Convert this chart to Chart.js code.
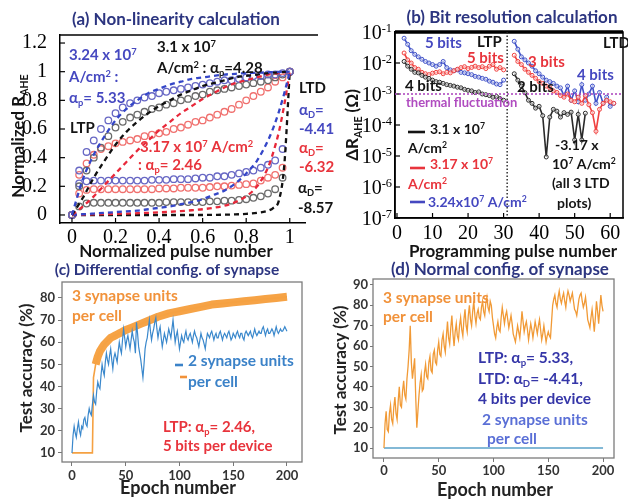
<!DOCTYPE html>
<html>
<head>
<meta charset="utf-8">
<script src="https://cdn.jsdelivr.net/npm/chart.js@4.4.1/dist/chart.umd.min.js"></script>
<style>
  body { margin: 0; background: #fff; }
  #fig { position: relative; width: 628px; height: 500px; overflow: hidden; background: #fff; }
  #fig canvas { position: absolute; }
</style>
</head>
<body>
<div id="fig">
  <canvas id="chartA" width="334" height="262" style="left:0;top:0"></canvas>
  <canvas id="chartB" width="294" height="262" style="left:334px;top:0"></canvas>
  <canvas id="chartC" width="320" height="250" style="left:0;top:250px"></canvas>
  <canvas id="chartD" width="308" height="250" style="left:320px;top:250px"></canvas>
</div>
<script>
const SANS = "Lato, 'Open Sans', 'DejaVu Sans', sans-serif";
const SERIF = "'Liberation Serif', 'DejaVu Serif', serif";
const NAVY = '#2c3580';
const BLUE = '#4548c0';
const RED = '#e8343c';
const INK = '#141414';
const ORANGE = '#f1923a';
const PURPLE = '#b04cc0';

Chart.defaults.animation = false;
Chart.defaults.font.family = SANS;
Chart.defaults.events = [];

// (a) normalized R_AHE against normalized pulse number
const pulseA = [0, 0.033, 0.067, 0.1, 0.133, 0.167, 0.2, 0.233, 0.267, 0.3, 0.333, 0.367, 0.4, 0.433, 0.467, 0.5,
  0.533, 0.567, 0.6, 0.633, 0.667, 0.7, 0.733, 0.767, 0.8, 0.833, 0.867, 0.9, 0.933, 0.967, 1];
const ltpBlue  = [0, 0.31, 0.44, 0.52, 0.60, 0.66, 0.71, 0.75, 0.78, 0.80, 0.82, 0.83, 0.85, 0.86, 0.87, 0.88,
  0.89, 0.90, 0.91, 0.92, 0.93, 0.94, 0.94, 0.95, 0.96, 0.97, 0.97, 0.98, 0.98, 0.99, 1.0];
const ltpBlack = [0, 0.20, 0.31, 0.40, 0.47, 0.55, 0.61, 0.65, 0.68, 0.70, 0.72, 0.74, 0.75, 0.77, 0.78, 0.80,
  0.81, 0.83, 0.84, 0.86, 0.87, 0.88, 0.89, 0.90, 0.91, 0.92, 0.93, 0.94, 0.96, 0.98, 1.0];
const ltpRed   = [0, 0.28, 0.36, 0.42, 0.46, 0.48, 0.50, 0.51, 0.52, 0.53, 0.55, 0.56, 0.57, 0.58, 0.60, 0.61,
  0.63, 0.65, 0.66, 0.68, 0.70, 0.72, 0.74, 0.77, 0.80, 0.83, 0.86, 0.89, 0.93, 0.96, 1.0];
const ltdBlue  = [0, 0.22, 0.235, 0.24, 0.24, 0.24, 0.24, 0.24, 0.24, 0.24, 0.24, 0.245, 0.245, 0.245, 0.25, 0.25,
  0.25, 0.255, 0.26, 0.26, 0.27, 0.27, 0.28, 0.29, 0.30, 0.31, 0.33, 0.35, 0.38, 0.46, 1.0];
const ltdRed   = [0, 0.15, 0.175, 0.18, 0.18, 0.18, 0.18, 0.18, 0.18, 0.18, 0.18, 0.18, 0.185, 0.185, 0.185, 0.19,
  0.19, 0.19, 0.19, 0.195, 0.2, 0.2, 0.205, 0.21, 0.215, 0.22, 0.24, 0.26, 0.28, 0.33, 1.0];
const ltdBlack = [0, 0.06, 0.08, 0.085, 0.085, 0.085, 0.085, 0.085, 0.085, 0.085, 0.085, 0.085, 0.085, 0.09, 0.09, 0.09,
  0.09, 0.09, 0.09, 0.095, 0.095, 0.1, 0.1, 0.105, 0.11, 0.12, 0.13, 0.15, 0.18, 0.26, 1.0];

// fitted curves (dashed)
const fitX = [0, 0.05, 0.1, 0.15, 0.2, 0.25, 0.3, 0.35, 0.4, 0.45, 0.5, 0.55, 0.6, 0.65, 0.7, 0.75, 0.8, 0.85,
  0.9, 0.925, 0.95, 0.975, 1];
const fitLtpBlue  = [0, 0.25, 0.42, 0.55, 0.66, 0.74, 0.80, 0.85, 0.88, 0.91, 0.93, 0.95, 0.96, 0.97, 0.98, 0.985,
  0.99, 0.993, 0.996, 0.997, 0.998, 0.999, 1.0];
const fitLtpBlack = [0, 0.12, 0.26, 0.38, 0.49, 0.58, 0.65, 0.71, 0.76, 0.80, 0.84, 0.87, 0.90, 0.92, 0.94, 0.96,
  0.97, 0.98, 0.99, 0.993, 0.996, 0.998, 1.0];
const fitLtpRed   = [0, 0.06, 0.13, 0.21, 0.29, 0.37, 0.45, 0.52, 0.59, 0.65, 0.71, 0.76, 0.81, 0.85, 0.89, 0.92,
  0.94, 0.96, 0.98, 0.985, 0.99, 0.995, 1.0];
const fitLtdBlue  = [0, 0.005, 0.01, 0.015, 0.02, 0.025, 0.03, 0.04, 0.05, 0.06, 0.075, 0.09, 0.11, 0.14, 0.17, 0.22,
  0.29, 0.38, 0.52, 0.61, 0.72, 0.85, 1.0];
const fitLtdRed   = [0, 0.002, 0.004, 0.006, 0.008, 0.01, 0.012, 0.015, 0.018, 0.022, 0.027, 0.033, 0.04, 0.05,
  0.065, 0.09, 0.13, 0.2, 0.33, 0.44, 0.58, 0.77, 1.0];
const fitLtdBlack = [0, 0, 0, 0, 0, 0, 0, 0, 0, 0, 0, 0, 0, 0.001, 0.002, 0.004, 0.008, 0.015, 0.03, 0.05, 0.1,
  0.35, 1.0];
const ticksAx = [0, 0.2, 0.4, 0.6, 0.8, 1];
const ticksAy = [0, 0.2, 0.4, 0.6, 0.8, 1, 1.2];

// (b) delta R_AHE per programming pulse
const pulseLtp = [2, 3, 4, 5, 6, 7, 8, 9, 10, 11, 12, 13, 14, 15, 16, 17, 18, 19, 20, 21, 22, 23, 24, 25, 26, 27,
  28, 29, 30];
const pulseLtd = [33, 34, 35, 36, 37, 38, 39, 40, 41, 42, 43, 44, 45, 46, 47, 48, 49, 50, 51, 52, 53, 54, 55, 56,
  57, 58, 59, 60, 61];
const dLtpBlue  = [0.063, 0.040, 0.025, 0.019, 0.0158, 0.0132, 0.0112, 0.010, 0.0089, 0.0079, 0.0089, 0.0112,
  0.0071, 0.0060, 0.0056, 0.0060, 0.0050, 0.0048, 0.0045, 0.0042, 0.0037, 0.0035, 0.0032, 0.0030, 0.0026, 0.0024,
  0.0021, 0.0020, 0.0028];
const dLtpRed   = [0.021, 0.0126, 0.010, 0.0071, 0.0063, 0.0050, 0.0045, 0.0042, 0.0047, 0.0050, 0.0052, 0.0045,
  0.0050, 0.0048, 0.0056, 0.0063, 0.0071, 0.0076, 0.0066, 0.0072, 0.0079, 0.0071, 0.0076, 0.0066, 0.0079, 0.0089,
  0.0063, 0.0071, 0.0060];
const dLtpBlack = [0.0112, 0.0079, 0.0063, 0.0050, 0.0048, 0.0040, 0.0035, 0.0032, 0.0028, 0.0025, 0.0024, 0.0022,
  0.0020, 0.0019, 0.0018, 0.00166, 0.00158, 0.00141, 0.00132, 0.00126, 0.00112, 0.00117, 0.0010, 0.00095, 0.00089,
  0.00079, 0.00083, 0.00071, 0.00063];
const dLtdBlue  = [0.050, 0.028, 0.0158, 0.0126, 0.010, 0.0079, 0.0056, 0.0045, 0.0035, 0.0028, 0.0025, 0.0022,
  0.0018, 0.00158, 0.00089, 0.0018, 0.00063, 0.00126, 0.00056, 0.0020, 0.00063, 0.0010, 0.0018, 0.0005, 0.00112,
  0.0005, 0.00079, 0.0004, 0.0005];
const dLtdRed   = [0.0178, 0.0112, 0.0089, 0.0063, 0.0050, 0.0040, 0.0032, 0.0025, 0.0022, 0.0018, 0.00158,
  0.00126, 0.00112, 0.00089, 0.00079, 0.0010, 0.00063, 0.00056, 0.00079, 0.0005, 0.00089, 0.00045, 0.00025,
  0.000063, 0.00032, 0.0005, 0.00063, 0.00056, 0.0005];
const dLtdBlack = [0.0045, 0.0028, 0.0018, 0.0011, 0.00063, 0.0005, 0.00035, 0.0004, 0.0002, 0.0000093, 0.00018,
  0.00032, 0.00028, 0.00018, 0.00025, 0.00022, 0.00026, 0.000033, 0.00022, 0.000033, 0.00024];
const thermalLevel = 1e-3;
const boundaryPulse = 31;
const ticksBx = [0, 10, 20, 30, 40, 50, 60];
const ticksBy = [1e-7, 1e-6, 1e-5, 1e-4, 1e-3, 1e-2, 1e-1];

// (c), (d) test accuracy per epoch
const epochs = Array.from({ length: 201 }, (_, i) => i);
const diffTwoUnits = [
  10, 18, 22, 19, 17, 21, 24, 20, 18, 22,
  21, 25, 26, 23, 22, 27, 30, 28, 27, 32,
  36, 33, 32, 38, 42, 40, 39, 45, 50, 47,
  45, 51, 55, 52, 50, 54, 57, 52, 48, 53,
  55, 53, 51, 56, 60, 57, 55, 61, 66, 62,
  58, 61, 63, 60, 57, 61, 65, 62, 60, 55,
  69, 64, 58, 55, 52, 48, 44, 50, 57, 60,
  62, 66, 70, 65, 61, 64, 66, 69, 71, 66,
  62, 65, 67, 62, 58, 61, 64, 62, 60, 63,
  66, 64, 62, 66, 70, 65, 60, 63, 65, 61,
  57, 60, 63, 61, 60, 63, 65, 62, 61, 63,
  64, 62, 60, 63, 65, 63, 62, 60, 58, 61,
  64, 62, 61, 59, 57, 61, 64, 63, 62, 64,
  65, 63, 61, 63, 64, 62, 62, 64, 65, 63,
  61, 63, 64, 63, 62, 64, 65, 63, 61, 62,
  64, 63, 62, 64, 65, 63, 62, 64, 64, 62,
  61, 64, 65, 64, 63, 64, 65, 63, 62, 64,
  66, 64, 63, 64, 65, 64, 64, 66, 67, 65,
  63, 65, 66, 64, 64, 65, 66, 65, 63, 65,
  67, 65, 64, 65, 66, 65, 65, 66, 67, 66,
  65];
const diffThreeEpochs = [0, 19, 20, 22, 24, 26, 28, 30, 32, 34, 36, 38, 40, 42, 44, 46, 48, 50, 55, 60, 65, 70,
  75, 80, 90, 100, 110, 120, 130, 140, 150, 160, 170, 180, 190, 200];
const diffThreeUnits = [10, 10, 44, 50, 53.5, 56, 57.5, 59, 60, 61, 62, 62.5, 63, 63.5, 64, 64.5, 65, 65.5, 66.5,
  67.5, 68.5, 69.5, 70.5, 71.5, 73, 74, 75, 76, 77, 77.5, 78, 78.5, 79, 79.5, 80, 80.5];
const normThreeUnits = [
  10, 22, 28, 19, 18, 27, 31, 24, 22, 30,
  35, 27, 24, 33, 40, 31, 30, 38, 43, 36,
  34, 44, 50, 58, 70, 52, 44, 49, 54, 35,
  20, 28, 36, 42, 46, 38, 39, 47, 51, 45,
  44, 52, 55, 48, 47, 56, 58, 52, 51, 58,
  62, 56, 55, 63, 66, 60, 57, 65, 72, 64,
  61, 69, 75, 66, 60, 67, 71, 65, 63, 70,
  74, 68, 65, 73, 78, 70, 67, 75, 80, 73,
  70, 77, 82, 75, 71, 76, 78, 74, 73, 79,
  82, 77, 75, 81, 84, 79, 77, 82, 80, 74,
  70, 66, 64, 69, 72, 68, 67, 74, 79, 75,
  71, 75, 77, 73, 69, 72, 75, 71, 66, 64,
  62, 66, 70, 67, 64, 70, 77, 72, 67, 70,
  72, 68, 63, 67, 71, 68, 64, 68, 72, 69,
  66, 70, 73, 68, 63, 66, 70, 66, 62, 65,
  67, 65, 64, 72, 80, 83, 85, 81, 79, 84,
  87, 83, 81, 84, 86, 82, 79, 84, 87, 85,
  82, 84, 86, 82, 78, 77, 75, 79, 83, 85,
  86, 82, 79, 81, 84, 79, 73, 71, 69, 74,
  78, 73, 67, 74, 82, 77, 71, 78, 85, 80,
  77];
const normTwoEpochs = [0, 200];
const normTwoUnits = [10, 10];
const bandStart = 22;
const ticksEpoch = [0, 50, 100, 150, 200];
const ticksAccC = [10, 20, 30, 40, 50, 60, 70, 80];
const ticksAccD = [10, 20, 30, 40, 50, 60, 70, 80, 90];

// text placed on each panel: [text, x, y, colour, size, align, rotated]
const notesA = [
  ['(a) Non-linearity calculation', 176, 19, NAVY, 17, 'center'],
  ['3.24 x 10^{7}', 69, 55, BLUE, 15],
  ['A/cm^{2} :', 69, 77, BLUE, 15],
  ['α_{p}= 5.33', 69, 98, BLUE, 15],
  ['3.1 x 10^{7}', 157, 47, INK, 15],
  ['A/cm^{2} : α_{p}=4.28', 157, 68, INK, 15],
  ['LTP', 70, 128, INK, 15],
  ['3.17 x 10^{7} A/cm^{2}', 140, 147, RED, 15],
  [': α_{p}= 2.46', 138, 165, RED, 15],
  ['LTD', 299, 88, INK, 15],
  ['α_{D}=', 299, 110, BLUE, 15], ['-4.41', 299, 129, BLUE, 15],
  ['α_{D}=', 299, 148, RED, 15], ['-6.32', 299, 167, RED, 15],
  ['α_{D}=', 298, 188, INK, 15], ['-8.57', 298, 208, INK, 15],
  ['Normalized R_{AHE}', 18, 136, INK, 17, 'center', true],
  ['Normalized pulse number', 176, 251, INK, 17, 'center']
];
const notesB = [
  ['(b) Bit resolution calculation', 512, 17, NAVY, 17, 'center'],
  ['5 bits', 425, 43, BLUE, 15],
  ['LTP', 477, 42, INK, 15],
  ['5 bits', 467, 58, RED, 15],
  ['4 bits', 405, 86, INK, 15],
  ['thermal fluctuation', 406, 102, PURPLE, 13],
  ['3 bits', 528, 62, RED, 15],
  ['4 bits', 577, 75, BLUE, 15],
  ['LTD', 603, 43, INK, 15],
  ['2 bits', 517, 87, INK, 15],
  ['3.1 x 10^{7}', 430, 129, INK, 14],
  ['A/cm^{2}', 408, 148, INK, 14],
  ['3.17 x 10^{7}', 430, 164, RED, 14],
  ['A/cm^{2}', 408, 184, RED, 14],
  ['3.24x10^{7} A/cm^{2}', 428, 202, BLUE, 14],
  ['-3.17 x', 555, 145, INK, 14],
  ['10^{7} A/cm^{2}', 552, 164, INK, 14],
  ['(all 3 LTD', 552, 183, INK, 14],
  ['plots)', 557, 203, INK, 14],
  ['ΔR_{AHE} (Ω)', 352, 125, INK, 17, 'center', true],
  ['Programming pulse number', 513, 251, INK, 17, 'center']
];
const keyB = [[408, 425, 132, INK], [410, 425, 168, RED], [410, 425, 202, BLUE]];
const notesC = [
  ['(c) Differential config. of synapse', 167, 269, NAVY, 15.5, 'center'],
  ['3 synapse units', 72, 295, ORANGE, 15.5],
  ['per cell', 72, 315, ORANGE, 15.5],
  ['2 synapse units', 188, 360, '#3b82c8', 15.5],
  ['per cell', 188, 381, '#3b82c8', 15.5],
  ['LTP: α_{p}= 2.46,', 163, 427, RED, 15],
  ['5 bits per device', 163, 446, RED, 15],
  ['Test accuracy (%)', 26, 368, '#222', 17, 'center', true],
  ['Epoch number', 178, 488, '#222', 18, 'center']
];
const keyC = [[175, 183, 365, '#3b82c8'], [180, 187, 377, ORANGE]];
const notesD = [
  ['(d) Normal config. of synapse', 500, 269, NAVY, 17, 'center'],
  ['3 synapse units', 383, 297, ORANGE, 15.5],
  ['per cell', 383, 316, ORANGE, 15.5],
  ['LTP: α_{p}= 5.33,', 478, 357, '#3536a8', 15.5],
  ['LTD: α_{D}= -4.41,', 478, 378, '#3536a8', 15.5],
  ['4 bits per device', 478, 398, '#3536a8', 15.5],
  ['2 synapse units', 482, 419, '#5a6fd6', 15.5],
  ['per cell', 487, 438, '#5a6fd6', 15.5],
  ['Test accuracy (%)', 340, 370, '#222', 17, 'center', true],
  ['Epoch number', 495, 490, '#222', 18, 'center']
];

const pts = (xs, ys) => ys.map((y, i) => ({ x: xs[i], y }));
const setTicks = list => s => { s.ticks = list.map(v => ({ value: v })); };

// text with _{sub} and ^{sup} runs
function drawRich(ctx, str, x, y, o) {
  const size = o.size, fam = o.fam || SANS, wt = o.weight || 'bold';
  const parts = [];
  const re = /([_^])\{([^}]*)\}/g;
  let last = 0, m;
  while ((m = re.exec(str)) !== null) {
    if (m.index > last) parts.push({ t: str.slice(last, m.index), k: '' });
    parts.push({ t: m[2], k: m[1] });
    last = re.lastIndex;
  }
  if (last < str.length) parts.push({ t: str.slice(last), k: '' });
  let total = 0;
  parts.forEach(p => {
    p.sz = p.k ? size * 0.62 : size;
    ctx.font = `${wt} ${p.sz}px ${fam}`;
    p.w = ctx.measureText(p.t).width;
    total += p.w;
  });
  ctx.save();
  ctx.translate(x, y);
  if (o.rot) ctx.rotate(-Math.PI / 2);
  ctx.fillStyle = o.color || INK;
  ctx.textAlign = 'left';
  ctx.textBaseline = 'alphabetic';
  let cx = o.align === 'center' ? -total / 2 : o.align === 'right' ? -total : 0;
  const base = size * 0.36;
  parts.forEach(p => {
    ctx.font = `${wt} ${p.sz}px ${fam}`;
    const dy = p.k === '^' ? -size * 0.38 : p.k === '_' ? size * 0.2 : 0;
    ctx.fillText(p.t, cx, base + dy);
    cx += p.w;
  });
  ctx.restore();
}

function line(ctx, x1, y1, x2, y2) {
  ctx.beginPath(); ctx.moveTo(x1, y1); ctx.lineTo(x2, y2); ctx.stroke();
}

function inwardTicks(chart, len) {
  const { ctx, chartArea: a, scales: { x, y } } = chart;
  ctx.strokeStyle = '#000'; ctx.lineWidth = 1.2;
  x.ticks.forEach(t => { const px = x.getPixelForValue(t.value); line(ctx, px, a.bottom, px, a.bottom - len); });
  y.ticks.forEach(t => { const py = y.getPixelForValue(t.value); line(ctx, a.left, py, a.left + len, py); });
}

// serif tick labels under the x axis, drawn at the scale's tick pixels
function serifXLabels(chart, drop, fmt) {
  const { ctx, chartArea: a, scales: { x } } = chart;
  x.ticks.forEach(t => drawRich(ctx, fmt(t.value), x.getPixelForValue(t.value), a.bottom + drop,
    { size: 20, fam: SERIF, weight: 'normal', align: 'center', color: '#000' }));
}

function boxFrame(chart) {
  const { ctx, chartArea: a } = chart;
  ctx.strokeStyle = '#7c7c7c'; ctx.lineWidth = 1.3;
  ctx.strokeRect(a.left, a.top, a.right - a.left, a.bottom - a.top);
}

// draws frame extras first, then the panel's text in page coordinates
function panelPlugin(id, offX, offY, notes, keys, extra) {
  return {
    id,
    afterDraw(chart) {
      const ctx = chart.ctx;
      ctx.save();
      if (extra) extra(chart);
      ctx.translate(-offX, -offY);
      (keys || []).forEach(k => {
        ctx.strokeStyle = k[3]; ctx.lineWidth = 2.6;
        line(ctx, k[0], k[2], k[1], k[2]);
      });
      notes.forEach(n => drawRich(ctx, n[0], n[1], n[2], { color: n[3], size: n[4], align: n[5], rot: n[6] }));
      ctx.restore();
    }
  };
}

const boldTicks = { font: { size: 13, weight: 'bold' }, color: '#333', maxRotation: 0, autoSkip: false };
const noLegend = { legend: { display: false }, tooltip: { enabled: false } };
const fmtA = v => String(+v.toFixed(1));

const fitSet = (ys, c) => ({ data: pts(fitX, ys), borderColor: c, borderWidth: 2.3, borderDash: [5, 4],
  pointRadius: 0, cubicInterpolationMode: 'monotone', order: 0 });
const ringSet = (ys, c) => ({ data: pts(pulseA, ys), showLine: false, pointRadius: 3.3, pointBorderWidth: 1.3,
  pointBorderColor: c, pointBackgroundColor: 'rgba(255,255,255,0)', order: 1 });

new Chart(document.getElementById('chartA'), {
  type: 'line',
  data: {
    datasets: [
      fitSet(fitLtpBlue, '#3446c8'), fitSet(fitLtpBlack, '#111'), fitSet(fitLtpRed, '#e8283a'),
      fitSet(fitLtdBlue, '#3446c8'), fitSet(fitLtdRed, '#e8283a'), fitSet(fitLtdBlack, '#111'),
      ringSet(ltpBlue, '#6767c4'), ringSet(ltpBlack, '#6a6a6a'), ringSet(ltpRed, '#f0706e'),
      ringSet(ltdBlue, '#6767c4'), ringSet(ltdRed, '#f0706e'), ringSet(ltdBlack, '#6a6a6a')
    ]
  },
  options: {
    responsive: false,
    layout: { padding: { top: 35, right: 29, left: 0, bottom: 0 } },
    plugins: noLegend,
    scales: {
      x: {
        type: 'linear', min: -0.055, max: 1.07,
        afterBuildTicks: setTicks(ticksAx), afterFit: s => { s.height = 39; },
        grid: { display: false }, border: { color: '#000', width: 1.5 },
        ticks: { display: false }
      },
      y: {
        min: -0.056, max: 1.256,
        afterBuildTicks: setTicks(ticksAy), afterFit: s => { s.width = 60; },
        grid: { display: false }, border: { color: '#000', width: 1.5 },
        ticks: { font: { family: SERIF, size: 20, weight: 'normal' }, color: '#000', padding: 5, callback: fmtA }
      }
    }
  },
  plugins: [panelPlugin('panelA', 0, 0, notesA, null, chart => {
    const { ctx, chartArea: a } = chart;
    ctx.strokeStyle = '#000'; ctx.lineWidth = 1.5;
    line(ctx, a.left, a.top, a.right + 13, a.top);
    inwardTicks(chart, 5);
    serifXLabels(chart, 13, fmtA);
  })]
});

const stepSet = (xs, ys, c) => ({ data: pts(xs, ys), borderColor: c, borderWidth: 1.6, pointRadius: 2,
  pointBorderWidth: 1, pointBorderColor: c, pointBackgroundColor: 'rgba(255,255,255,0.6)' });

new Chart(document.getElementById('chartB'), {
  type: 'line',
  data: {
    datasets: [
      stepSet(pulseLtp, dLtpBlack, '#2a2a2a'), stepSet(pulseLtd, dLtdBlack, '#2a2a2a'),
      stepSet(pulseLtp, dLtpRed, '#f0403e'), stepSet(pulseLtd, dLtdRed, '#f0403e'),
      stepSet(pulseLtp, dLtpBlue, '#4052c8'), stepSet(pulseLtd, dLtdBlue, '#4052c8')
    ]
  },
  options: {
    responsive: false,
    layout: { padding: { top: 32, right: 3, left: 0, bottom: 0 } },
    plugins: noLegend,
    scales: {
      x: {
        type: 'linear', min: -0.56, max: 63.6,
        afterBuildTicks: setTicks(ticksBx), afterFit: s => { s.height = 44; },
        grid: { display: false }, border: { color: '#000', width: 1.5 },
        ticks: { display: false }
      },
      y: {
        type: 'logarithmic', min: 1e-7, max: 1e-1,
        afterBuildTicks: setTicks(ticksBy), afterFit: s => { s.width = 61; },
        grid: { display: false }, border: { color: '#000', width: 1.5 },
        ticks: { display: false }
      }
    }
  },
  plugins: [panelPlugin('panelB', 334, 0, notesB, keyB, chart => {
    const { ctx, chartArea: a, scales: { x, y } } = chart;
    ctx.strokeStyle = '#000'; ctx.lineWidth = 1.5;
    ctx.strokeRect(a.left, a.top, a.right - a.left, a.bottom - a.top);
    ctx.lineWidth = 3.5;
    line(ctx, a.left, a.top, a.right, a.top);
    inwardTicks(chart, 5);
    // thermal fluctuation floor
    ctx.strokeStyle = PURPLE; ctx.lineWidth = 1.6; ctx.setLineDash([2, 2]);
    const ty = y.getPixelForValue(thermalLevel);
    line(ctx, a.left, ty, a.right, ty);
    // LTP / LTD boundary
    ctx.strokeStyle = '#222'; ctx.lineWidth = 1.4; ctx.setLineDash([1.5, 2]);
    const bx = x.getPixelForValue(boundaryPulse);
    line(ctx, bx, a.top, bx, a.bottom);
    ctx.setLineDash([]);
    y.ticks.forEach(t => {
      const e = Math.round(Math.log10(t.value));
      drawRich(ctx, '10^{' + e + '}', a.left - 3, y.getPixelForValue(t.value),
        { size: 20, fam: SERIF, weight: 'normal', align: 'right', color: '#000' });
    });
    serifXLabels(chart, 14, v => String(v));
  })]
});

const accGrid = { drawOnChartArea: false, tickLength: 4, color: '#777' };
const diffThree = pts(diffThreeEpochs, diffThreeUnits);

new Chart(document.getElementById('chartC'), {
  type: 'line',
  data: {
    datasets: [
      { data: pts(epochs, diffTwoUnits), borderColor: '#3a88cc', borderWidth: 1.2, pointRadius: 0, order: 0 },
      { data: diffThree, borderColor: '#f5a142', borderWidth: 1.6, pointRadius: 0, order: 1 },
      { data: diffThree.filter(p => p.x >= bandStart), borderColor: '#f6a346', borderWidth: 8,
        borderCapStyle: 'butt', borderJoinStyle: 'round', pointRadius: 0, order: 1 }
    ]
  },
  options: {
    responsive: false,
    layout: { padding: { top: 32, right: 18, left: 0, bottom: 0 } },
    plugins: noLegend,
    scales: {
      x: {
        type: 'linear', min: -9.3, max: 214,
        afterBuildTicks: setTicks(ticksEpoch), afterFit: s => { s.height = 38; },
        grid: accGrid, border: { display: false }, ticks: { ...boldTicks, padding: 2 }
      },
      y: {
        min: 5.9, max: 87.2,
        afterBuildTicks: setTicks(ticksAccC), afterFit: s => { s.width = 62; },
        grid: accGrid, border: { display: false }, ticks: { ...boldTicks, padding: 3 }
      }
    }
  },
  plugins: [panelPlugin('panelC', 0, 250, notesC, keyC, boxFrame)]
});

new Chart(document.getElementById('chartD'), {
  type: 'line',
  data: {
    datasets: [
      { data: pts(epochs, normThreeUnits), borderColor: '#f19a36', borderWidth: 1.3, pointRadius: 0, order: 0 },
      { data: pts(normTwoEpochs, normTwoUnits), borderColor: '#5aa2c8', borderWidth: 1.6, pointRadius: 0, order: 1 }
    ]
  },
  options: {
    responsive: false,
    layout: { padding: { top: 29, right: 14, left: 0, bottom: 0 } },
    plugins: noLegend,
    scales: {
      x: {
        type: 'linear', min: -10, max: 210,
        afterBuildTicks: setTicks(ticksEpoch), afterFit: s => { s.height = 42; },
        grid: accGrid, border: { display: false }, ticks: { ...boldTicks, padding: 1 }
      },
      y: {
        min: 5.1, max: 92.9,
        afterBuildTicks: setTicks(ticksAccD), afterFit: s => { s.width = 53; },
        grid: { ...accGrid, tickLength: 3 }, border: { display: false }, ticks: { ...boldTicks, padding: 2 }
      }
    }
  },
  plugins: [panelPlugin('panelD', 320, 250, notesD, null, boxFrame)]
});
</script>
</body>
</html>
